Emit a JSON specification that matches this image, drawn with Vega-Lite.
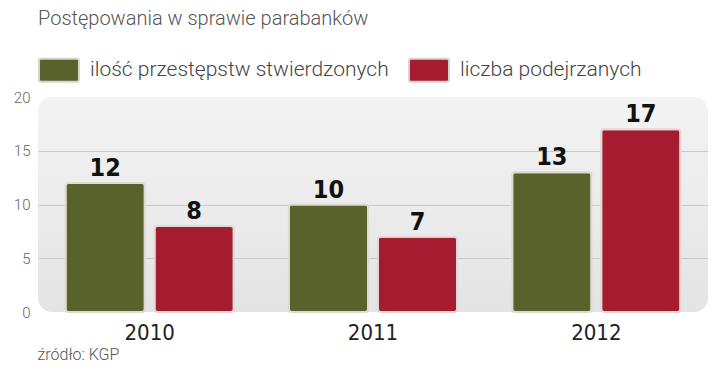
{
  "$schema": "https://vega.github.io/schema/vega-lite/v6.json",
  "autosize": {"type": "none"},
  "width": 670,
  "height": 215,
  "padding": {"left": 38, "top": 97, "right": 12, "bottom": 66},
  "background": "white",
  "title": {
    "text": "Postępowania w sprawie parabanków",
    "anchor": "start",
    "frame": "group",
    "font": "Roboto",
    "fontSize": 20,
    "fontWeight": 300,
    "color": "#555555",
    "offset": 20
  },
  "config": {
    "view": {
      "stroke": null,
      "cornerRadius": 14,
      "fill": {"gradient": "linear", "x1": 0, "y1": 0, "x2": 0, "y2": 1, "stops": [{"offset": 0, "color": "#f3f3f3"}, {"offset": 1, "color": "#e4e4e4"}]}
    }
  },
  "data": {
    "values": [
      {"rok": "2010", "seria": "ilość przestępstw stwierdzonych", "wartosc": 12},
      {"rok": "2010", "seria": "liczba podejrzanych", "wartosc": 8},
      {"rok": "2011", "seria": "ilość przestępstw stwierdzonych", "wartosc": 10},
      {"rok": "2011", "seria": "liczba podejrzanych", "wartosc": 7},
      {"rok": "2012", "seria": "ilość przestępstw stwierdzonych", "wartosc": 13},
      {"rok": "2012", "seria": "liczba podejrzanych", "wartosc": 17}
    ]
  },
  "encoding": {
    "x": {
      "field": "rok",
      "type": "nominal",
      "scale": {"paddingInner": 0, "paddingOuter": 0},
      "axis": {
        "title": "źródło: KGP",
        "titleFont": "Roboto",
        "titleFontSize": 16,
        "titleFontWeight": 300,
        "titleColor": "#555555",
        "titleAnchor": "start",
        "titleAlign": "left",
        "titleX": -1,
        "titleY": 34,
        "labelAngle": 0,
        "labelFont": "DejaVu Sans Condensed",
        "labelFontSize": 22,
        "labelColor": "#222222",
        "labelPadding": 10,
        "domain": false,
        "ticks": false
      }
    },
    "xOffset": {
      "field": "seria",
      "type": "nominal",
      "scale": {"paddingInner": 0.11, "paddingOuter": 0.31}
    },
    "y": {
      "field": "wartosc",
      "type": "quantitative",
      "scale": {"domain": [0, 20], "nice": false},
      "axis": {
        "title": null,
        "values": [0, 5, 10, 15, 20],
        "labelFont": "Roboto",
        "labelFontSize": 15,
        "labelFontWeight": 300,
        "labelColor": "#666666",
        "labelPadding": 8,
        "domain": false,
        "ticks": false,
        "gridColor": "#c9c9c9",
        "gridWidth": 1,
        "gridOpacity": {"condition": {"test": "datum.value == 0 || datum.value == 20", "value": 0}, "value": 1}
      }
    }
  },
  "layer": [
    {
      "mark": {"type": "bar", "cornerRadius": 3, "stroke": "#dedad2", "strokeWidth": 2},
      "encoding": {
        "color": {
          "field": "seria",
          "type": "nominal",
          "scale": {"domain": ["ilość przestępstw stwierdzonych", "liczba podejrzanych"], "range": ["#5a622c", "#a51c31"]},
          "legend": {
            "title": null,
            "orient": "none",
            "direction": "horizontal",
            "legendX": 0,
            "legendY": -48,
            "symbolType": "M-0.9,-0.575 H0.9 Q1,-0.575 1,-0.475 V0.475 Q1,0.575 0.9,0.575 H-0.9 Q-1,0.575 -1,0.475 V-0.475 Q-1,-0.575 -0.9,-0.575 Z",
            "symbolSize": 1600,
            "symbolStrokeColor": "#d8d4cc",
            "symbolStrokeWidth": 2,
            "symbolOpacity": 1,
            "labelFont": "Roboto",
            "labelFontSize": 21,
            "labelFontWeight": 300,
            "labelColor": "#444444",
            "labelOffset": 10,
            "labelLimit": 400,
            "columnPadding": 16
          }
        }
      }
    },
    {
      "mark": {"type": "text", "baseline": "alphabetic", "dy": -7, "font": "DejaVu Sans Condensed", "fontSize": 25, "fontWeight": "bold", "color": "#111111"},
      "encoding": {
        "text": {"field": "wartosc", "type": "quantitative"}
      }
    }
  ]
}
